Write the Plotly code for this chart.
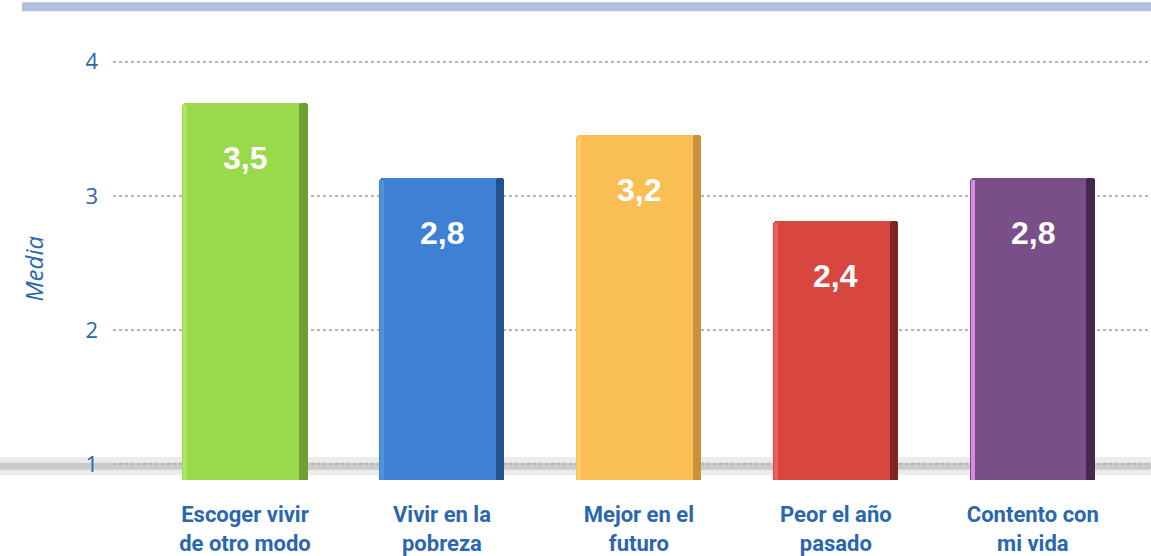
import plotly.graph_objects as go

categories = ["Escoger vivir<br>de otro modo", "Vivir en la<br>pobreza", "Mejor en el<br>futuro",
              "Peor el año<br>pasado", "Contento con<br>mi vida"]
values = [3.5, 2.8, 3.2, 2.4, 2.8]
value_labels = ["3,5", "2,8", "3,2", "2,4", "2,8"]
y_ticks = [1, 2, 3, 4]

main_colors = ["#9ad84c", "#3e80d4", "#f9bf55", "#d8473f", "#7a4e86"]
side_colors = ["#6f9f30", "#24528f", "#c8913a", "#7e2622", "#46294f"]
left_colors = ["#aee862", "#5590dc", "#fcce68", "#ee5e58", "#d48ae0"]

x = list(range(len(categories)))
BW = 0.635

fig = go.Figure()
# invisible anchor trace so the primary (labelled) y axis is drawn
fig.add_trace(go.Scatter(x=[x[0]], y=[y_ticks[0]], mode="markers", marker=dict(opacity=0),
                         hoverinfo="skip", showlegend=False))
fig.add_trace(go.Bar(x=x, y=values, yaxis="y2", width=BW, offset=-BW / 2,
                     marker=dict(color=main_colors, cornerradius=4, line=dict(width=0)),
                     hoverinfo="skip", showlegend=False))
fig.add_trace(go.Bar(x=x, y=values, yaxis="y2", width=0.045, offset=BW / 2 - 0.045,
                     marker=dict(color=side_colors, cornerradius=3, line=dict(width=0)),
                     hoverinfo="skip", showlegend=False))
fig.add_trace(go.Bar(x=x, y=[v - 0.02 for v in values], yaxis="y2", width=0.018, offset=-BW / 2 + 0.004,
                     marker=dict(color=left_colors, line=dict(width=0)),
                     hoverinfo="skip", showlegend=False))

for xi, v, lab in zip(x, values, value_labels):
    fig.add_annotation(x=xi, y=v, xref="x", yref="y2", text=f"<b>{lab}</b>",
                       showarrow=False, yshift=-55, yanchor="middle",
                       font=dict(family="Liberation Sans", size=32, color="white"))

fig.add_annotation(x=-0.077, y=0.468, xref="paper", yref="paper", text="<i>Media</i>",
                   textangle=-90, showarrow=False, xanchor="center", yanchor="middle",
                   font=dict(family="Open Sans", size=24, color="#2a67ae"))

# top band
fig.add_shape(type="rect", xref="paper", yref="paper", x0=-0.0877, x1=1.0, y0=1.019, y1=1.038,
              fillcolor="#b4bfe0", line=dict(width=0), layer="below")
# floor shadow
fig.add_shape(type="rect", xref="paper", yref="paper", x0=-0.109, x1=1.0, y0=0.025, y1=0.064,
              fillcolor="rgba(160,160,160,0.2)", line=dict(width=0), layer="below")
fig.add_shape(type="rect", xref="paper", yref="paper", x0=-0.109, x1=1.0, y0=0.037, y1=0.052,
              fillcolor="rgba(120,120,120,0.28)", line=dict(width=0), layer="below")

fig.update_layout(
    width=1151, height=556,
    margin=dict(l=113, r=0, t=20, b=66),
    paper_bgcolor="white", plot_bgcolor="white",
    barmode="overlay", bargap=0,
    xaxis=dict(range=[-0.67, 4.6], tickvals=x, ticktext=categories, showgrid=False,
               zeroline=False, showline=False, ticks="",
               tickfont=dict(family="Roboto", size=22, color="#2a67ae", weight="bold"),
               ticklabelstandoff=12),
    yaxis=dict(range=[0.8296, 4.311], tickvals=y_ticks, ticktext=[str(t) for t in y_ticks],
               showgrid=True, gridcolor="#b5b5b5", griddash="dot", gridwidth=2,
               zeroline=False, showline=False, ticks="",
               tickfont=dict(family="Open Sans", size=22, color="#2a67ae"),
               ticklabelstandoff=14),
    yaxis2=dict(range=[-0.0645, 4.267], overlaying="y", visible=False, showgrid=False),
)

fig.write_html("out.html", config={"displayModeBar": False},
               post_script="document.body.style.margin='0';document.body.style.overflow='hidden';")
